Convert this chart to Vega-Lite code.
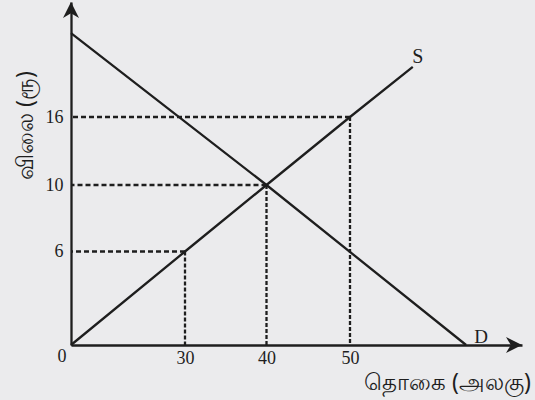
{
  "$schema": "https://vega.github.io/schema/vega-lite/v6.json",
  "width": 451,
  "height": 343,
  "autosize": {"type": "none"},
  "padding": {"left": 71, "top": 2, "right": 13, "bottom": 55},
  "background": "#ebebed",
  "config": {"view": {"stroke": null}, "font": "Liberation Serif"},
  "datasets": {
    "supply": [{"q": 0, "p": 0}, {"q": 30, "p": 6}, {"q": 40, "p": 10}, {"q": 50, "p": 16}, {"q": 57.3, "p": 20.35}],
    "demand": [{"q": 0, "p": 23.3}, {"q": 40, "p": 10}, {"q": 63.5, "p": 0}],
    "guides": [{"q": 30, "p": 6}, {"q": 40, "p": 10}, {"q": 50, "p": 16}],
    "labels": [{"q": 57.3, "p": 20.35, "label": "S"}, {"q": 63.5, "p": 0, "label": "D"}, {"q": 0, "p": 0, "label": "0"}]
  },
  "layer": [
    {
      "data": {"name": "supply"},
      "mark": {"type": "line", "color": "#1e1e1e", "strokeWidth": 2.3},
      "encoding": {
        "x": {"field": "q", "type": "quantitative",
          "scale": {"type": "linear", "domain": [0, 30, 40, 50, 70], "range": [0, 114, 195.5, 279, 451], "nice": false, "zero": false},
          "axis": {"values": [30, 40, 50], "ticks": false, "grid": false, "domainColor": "#1e1e1e", "domainWidth": 2.3, "labelFont": "Liberation Serif", "labelFontSize": 18, "labelColor": "#1e1e1e", "labelPadding": 4, "labelFlush": false, "title": "தொகை (அலகு)", "titleFont": "Noto Sans", "titleFontSize": 23, "titleFontWeight": "normal", "titleColor": "#1e1e1e", "titleX": 376, "titleY": 37, "titleAlign": "center", "titleBaseline": "middle"}},
        "y": {"field": "p", "type": "quantitative",
          "scale": {"type": "linear", "domain": [0, 6, 10, 16, 26], "range": [343, 249.5, 183, 115, 0], "nice": false, "zero": false},
          "axis": {"values": [6, 10, 16], "ticks": false, "grid": false, "domainColor": "#1e1e1e", "domainWidth": 2.3, "labelFont": "Liberation Serif", "labelFontSize": 18, "labelColor": "#1e1e1e", "labelPadding": 8, "labelFlush": false, "title": "விலை  (ரூ)", "titleFont": "Noto Sans", "titleFontSize": 23, "titleFontWeight": "normal", "titleColor": "#1e1e1e", "titleX": -46, "titleY": 123, "titleAngle": -90, "titleAlign": "center", "titleBaseline": "middle"}}
      }
    },
    {
      "data": {"name": "demand"},
      "mark": {"type": "line", "color": "#1e1e1e", "strokeWidth": 2.3},
      "encoding": {
        "x": {"field": "q", "type": "quantitative"},
        "y": {"field": "p", "type": "quantitative"}
      }
    },
    {
      "data": {"name": "guides"},
      "mark": {"type": "rule", "color": "#1e1e1e", "strokeWidth": 2.3, "strokeDash": [5, 3]},
      "encoding": {
        "x": {"field": "q", "type": "quantitative"},
        "x2": {"datum": 0},
        "y": {"field": "p", "type": "quantitative"}
      }
    },
    {
      "data": {"name": "guides"},
      "mark": {"type": "rule", "color": "#1e1e1e", "strokeWidth": 2.3, "strokeDash": [4, 2]},
      "encoding": {
        "x": {"field": "q", "type": "quantitative"},
        "y": {"field": "p", "type": "quantitative"},
        "y2": {"datum": 0}
      }
    },
    {
      "data": {"name": "labels"},
      "transform": [{"filter": "datum.label === 'S'"}],
      "mark": {"type": "text", "font": "Liberation Serif", "fontSize": 20, "color": "#1e1e1e", "dx": 5, "dy": -10},
      "encoding": {
        "x": {"field": "q", "type": "quantitative"},
        "y": {"field": "p", "type": "quantitative"},
        "text": {"field": "label"}
      }
    },
    {
      "data": {"name": "labels"},
      "transform": [{"filter": "datum.label === 'D'"}],
      "mark": {"type": "text", "font": "Liberation Serif", "fontSize": 19, "color": "#1e1e1e", "dx": 15, "dy": -8},
      "encoding": {
        "x": {"field": "q", "type": "quantitative"},
        "y": {"field": "p", "type": "quantitative"},
        "text": {"field": "label"}
      }
    },
    {
      "data": {"name": "labels"},
      "transform": [{"filter": "datum.label === '0'"}],
      "mark": {"type": "text", "font": "Liberation Serif", "fontSize": 18, "color": "#1e1e1e", "dx": -9, "dy": 12},
      "encoding": {
        "x": {"field": "q", "type": "quantitative"},
        "y": {"field": "p", "type": "quantitative"},
        "text": {"field": "label"}
      }
    },
    {
      "data": {"values": [{"axis": "y"}]},
      "mark": {"type": "point", "shape": "M0,0 L1,2 L0,1.4 L-1,2 Z", "size": 256, "filled": true, "color": "#1e1e1e", "opacity": 1, "strokeWidth": 0},
      "encoding": {
        "x": {"datum": 0, "type": "quantitative"},
        "y": {"datum": 26, "type": "quantitative"}
      }
    },
    {
      "data": {"values": [{"axis": "x"}]},
      "mark": {"type": "point", "shape": "M0,0 L-2,-1 L-1.4,0 L-2,1 Z", "size": 256, "filled": true, "color": "#1e1e1e", "opacity": 1, "strokeWidth": 0},
      "encoding": {
        "x": {"datum": 70, "type": "quantitative"},
        "y": {"datum": 0, "type": "quantitative"}
      }
    }
  ]
}
